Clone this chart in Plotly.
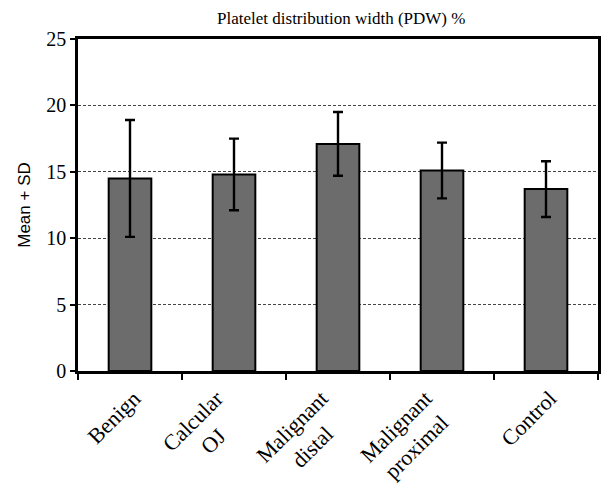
import plotly.graph_objects as go

categories = ["Benign", "Calcular OJ", "Malignant distal", "Malignant proximal", "Control"]
label_text = ["Benign", "Calcular<br>OJ", "Malignant<br>distal", "Malignant<br>proximal", "Control"]
means = [14.5, 14.8, 17.1, 15.1, 13.7]
sds = [4.4, 2.7, 2.4, 2.1, 2.1]
y_ticks = [0, 5, 10, 15, 20, 25]

fig = go.Figure()
fig.add_trace(go.Bar(
    x=categories, y=means,
    marker=dict(color="#6c6c6c", line=dict(color="black", width=2)),
    error_y=dict(type="data", array=sds, visible=True, color="black", thickness=2.4, width=5),
    width=0.41,
))

for cat, lab in zip(categories, label_text):
    fig.add_annotation(
        x=cat, xref="x", y=0, yref="paper", yshift=-12, xshift=18,
        text=lab,
        showarrow=False, textangle=-45, align="center",
        xanchor="right", yanchor="top",
        font=dict(family="Liberation Serif", size=22, color="black"),
    )

fig.update_layout(
    width=604, height=485,
    margin=dict(l=78, r=3, t=39, b=114),
    paper_bgcolor="white", plot_bgcolor="white",
    showlegend=False,
    title=dict(text="Platelet distribution width (PDW) %", x=0.565, xanchor="center", y=0.963, yanchor="middle",
               font=dict(family="Liberation Serif", size=17, color="black")),
    font=dict(family="Liberation Serif", color="black"),
)
fig.update_yaxes(
    range=[0, 25], tickvals=y_ticks, ticks="outside", ticklen=5, tickwidth=2, tickcolor="black",
    showline=True, linecolor="black", linewidth=2.5, mirror=True,
    showgrid=True, gridcolor="#444444", griddash="3px,2px", gridwidth=1,
    zeroline=False,
    tickfont=dict(family="Liberation Serif", size=20, color="black"),
    title=dict(text="Mean + SD", font=dict(family="Liberation Sans", size=17, color="black"), standoff=12),
)
fig.update_xaxes(
    ticks="outside", tickson="boundaries", ticklen=6, tickwidth=2, tickcolor="black",
    showline=True, linecolor="black", linewidth=2.5, mirror=True,
    showticklabels=False,
)

fig.write_html("out.html")
